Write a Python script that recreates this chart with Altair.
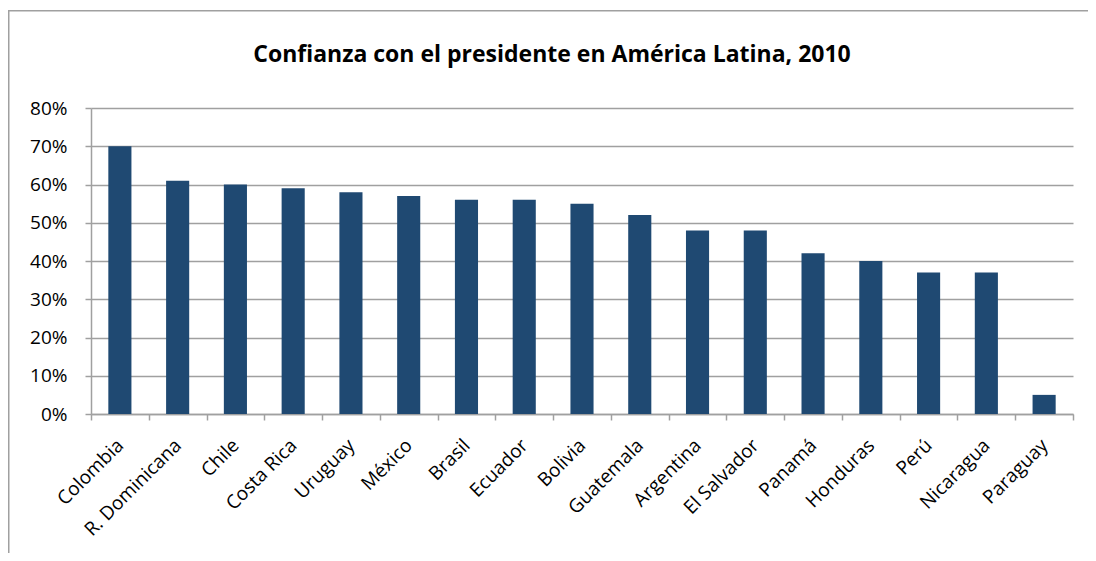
import altair as alt
import pandas as pd

countries = ["Colombia", "R. Dominicana", "Chile", "Costa Rica", "Uruguay", "México",
             "Brasil", "Ecuador", "Bolivia", "Guatemala", "Argentina", "El Salvador",
             "Panamá", "Honduras", "Perú", "Nicaragua", "Paraguay"]
values = [70, 61, 60, 59, 58, 57, 56, 56, 55, 52, 48, 48, 42, 40, 37, 37, 5]
y_ticks = [0, 10, 20, 30, 40, 50, 60, 70, 80]
title_text = ["Confianza con el presidente en América Latina, 2010"]

df = pd.DataFrame({"pais": countries, "valor": values})
tdf = pd.DataFrame({"t": title_text})

W, H = 982, 306
GRAY = "#a0a0a0"

x = alt.X(
    "pais:N", sort=countries, title=None,
    scale=alt.Scale(paddingInner=0, paddingOuter=0),
    axis=alt.Axis(labelAngle=-45, labelAlign="right", labelBaseline="middle",
                  labelFont="Open Sans", labelFontSize=19, labelColor="black",
                  tickBand="extent", tickSize=6, tickColor=GRAY, tickWidth=1.5,
                  domainColor=GRAY, domainWidth=1.5, labelPadding=22, grid=False),
)
y = alt.Y(
    "valor:Q", title=None,
    scale=alt.Scale(domain=[0, 80], nice=False),
    axis=alt.Axis(values=y_ticks, labelExpr="datum.value + '%'", grid=True,
                  gridColor=GRAY, gridWidth=1.5, tickSize=6, tickColor=GRAY, tickWidth=1.5,
                  domainColor=GRAY, domainWidth=1.5, labelFont="Open Sans",
                  labelFontSize=19, labelColor="black", labelPadding=18),
)

bars = alt.Chart(df).mark_bar(width=alt.RelativeBandSize(0.4), color="#1f4972").encode(x=x, y=y)

left_border = alt.Chart(tdf).mark_rect(fill=GRAY, strokeWidth=0).encode(
    x=alt.value(-83), x2=alt.value(-81.5), y=alt.value(-98), y2=alt.value(H + 200)
)
top_border = alt.Chart(tdf).mark_rect(fill=GRAY, strokeWidth=0).encode(
    x=alt.value(-83), x2=alt.value(W + 100), y=alt.value(-98), y2=alt.value(-96.5)
)

title = alt.Chart(tdf).mark_text(
    font="Open Sans", fontSize=23, fontWeight="bold", align="center",
    baseline="alphabetic", color="black"
).encode(x=alt.value(461), y=alt.value(-46), text="t:N")

chart = alt.layer(left_border, top_border, bars, title).properties(
    width=W, height=H,
    autosize=alt.AutoSizeParams(type="none"),
    padding={"left": 83, "top": 100, "right": 15, "bottom": 139},
).configure_view(stroke=None)

chart.save("out.html", embed_options={"renderer": "svg", "actions": False})
